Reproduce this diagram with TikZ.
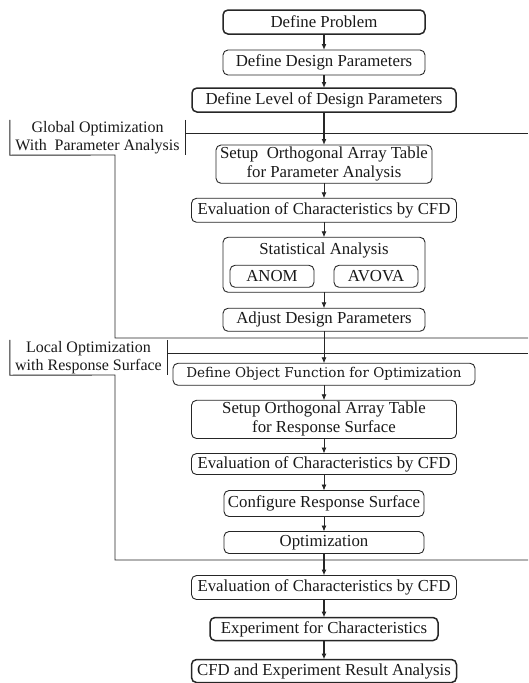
\documentclass[tikz,border=0pt]{standalone}
\usepackage{fontspec}
\setmainfont{Liberation Serif}
\newfontfamily\objfont{DejaVu Serif}
\usetikzlibrary{positioning,calc,arrows.meta}

\begin{document}
\begin{tikzpicture}[x=1pt, y=1pt,
    >={Latex[length=6pt,width=5pt]},
    stepbox/.style={draw=black!85, rounded corners=5pt, line width=0.9pt, align=center,
        inner sep=2pt, outer sep=0pt, text=black!90, font=\fontsize{16.8}{19}\selectfont},
    heavy/.style={line width=1.5pt},
    flow/.style={->, draw=black!85, line width=0.9pt},
    frameline/.style={draw=black!85, line width=0.9pt}]
                \useasboundingbox (0,0) rectangle (529,-683);
                \def\dy{15pt}
                \node [stepbox, heavy, minimum width=202pt, minimum height=24pt] (problem) at (324,-22) {Define Problem};
    
                \node [stepbox, minimum width=202pt, minimum height=25pt, below=16pt of problem] (designpar) {Define Design Parameters};
    
                \node [stepbox, heavy, minimum width=264pt, minimum height=24pt, below=13pt of designpar] (level) {Define Level of Design Parameters};
    
                \node [stepbox, minimum width=216pt, minimum height=38pt, below=33pt of level] (setuppar) {Setup\ \ Orthogonal Array Table\\for Parameter Analysis};
    
                \node [stepbox, minimum width=265pt, minimum height=24pt, below=\dy of setuppar] (evalpar) {Evaluation of Characteristics by CFD};
    
                \node [stepbox, minimum width=202pt, text height=15pt, text depth=36pt, below=\dy of evalpar] (stat) {Statistical Analysis};
                \node [stepbox, minimum width=84pt, minimum height=22pt] (anom) at ($(stat.south)+(-52,16)$) {ANOM};
                \node [stepbox, minimum width=84pt, minimum height=22pt] (avova) at ($(stat.south)+(52,16)$) {AVOVA};
    
                \node [stepbox, minimum width=202pt, minimum height=23pt, below=16pt of stat] (adjust) {Adjust Design Parameters};
    
                \node [stepbox, minimum width=302pt, minimum height=22pt, below=32pt of adjust,
                    font=\objfont\fontsize{13.5}{16}\selectfont] (objfun) {Define Object Function for Optimization};
    
                \node [stepbox, minimum width=265pt, minimum height=38pt, below=\dy of objfun] (setupres) {Setup Orthogonal Array Table\\for Response Surface};
    
                \node [stepbox, minimum width=265pt, minimum height=21pt, below=\dy of setupres] (evalres) {Evaluation of Characteristics by CFD};
    
                \node [stepbox, minimum width=200pt, minimum height=26pt, below=16pt of evalres] (config) {Configure Response Surface};
    
                \node [stepbox, minimum width=200pt, minimum height=22pt, below=\dy of config] (optim) {Optimization};
    
                \node [stepbox, minimum width=265pt, minimum height=24pt, below=22pt of optim] (evalfin) {Evaluation of Characteristics by CFD};
    
                \node [stepbox, heavy, minimum width=228pt, minimum height=23pt, below=18pt of evalfin] (exper) {Experiment for Characteristics};
    
                \node [stepbox, heavy, minimum width=265pt, minimum height=23pt, below=19pt of exper] (result) {CFD and Experiment Result Analysis};
    
                % group labels and their frames
                \node [align=center, inner sep=0pt, minimum width=175pt, minimum height=35pt,
                    font=\fontsize{16}{18.5}\selectfont, text=black!90] (globlabel) at (97.5,-137.5) {Global Optimization\\With\ \ Parameter Analysis};
                \draw [frameline] (globlabel.north west) -- (globlabel.south west) -- (115,-155) -- (115,-338) -- (528,-338);
                \draw [frameline] (globlabel.north east) -- (globlabel.south east);
                \draw [frameline] (185,-133) -- (528,-133);
    
                \node [align=center, inner sep=0pt, minimum width=157pt, minimum height=35pt,
                    font=\fontsize{16}{18.5}\selectfont, text=black!90] (loclabel) at (88.5,-357.5) {Local Optimization\\with Response Surface};
                \draw [frameline] (loclabel.north west) -- (loclabel.south west) -- (115,-375) -- (115,-560) -- (528,-560);
                \draw [frameline] (loclabel.north east) -- (loclabel.south east);
                \draw [frameline] (167,-353) -- (528,-353);
    
                % arrows
                \draw [flow, heavy] (problem) to (designpar);
                \draw [flow, heavy] (designpar) to (level);
                \draw [flow, line width=1.3pt] (level) to (setuppar);
                \foreach \from/\to in {setuppar/evalpar, evalpar/stat, stat/adjust, adjust/objfun,
                    objfun/setupres, setupres/evalres, evalres/config, config/optim}
                    \draw [flow] (\from) to (\to);
                \draw [flow, line width=1.3pt] (optim) to (evalfin);
                \draw [flow, heavy] (evalfin) to (exper);
                \draw [flow, heavy] (exper) to (result);
                
            \end{tikzpicture}
\end{document}
